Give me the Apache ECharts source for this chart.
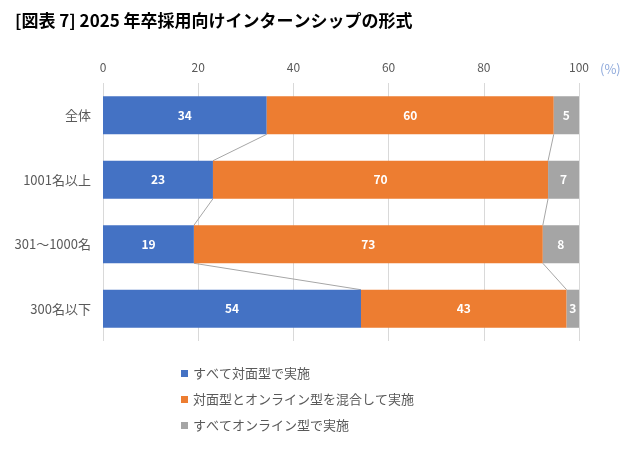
<!DOCTYPE html>
<html><head><meta charset="utf-8">
<script src="https://cdn.jsdelivr.net/npm/echarts@6/dist/echarts.min.js"></script>
<style>html,body{margin:0;padding:0;background:#fff}#c{width:628px;height:450px}</style>
</head><body><div id="c"></div>
<script>
const categories = ['全体', '1001名以上', '301～1000名', '300名以下'];
const seriesNames = ['すべて対面型で実施', '対面型とオンライン型を混合して実施', 'すべてオンライン型で実施'];
const faceToFace = [34.4, 23.1, 19.1, 54.2];
const hybrid = [60.3, 70.4, 73.3, 43.2];
const online = [5.3, 6.5, 7.6, 2.6];
const xTicks = [0, 20, 40, 60, 80, 100];

const colors = ['#4472C4', '#ED7D31', '#A5A5A5'];
const FONT = '"Noto Sans CJK JP", "Noto Sans", sans-serif';
const BAR_RATIO = 0.59;

const cum1 = faceToFace.slice();
const cum2 = faceToFace.map((v, i) => v + hybrid[i]);
function connectorData(cum) {
  const d = [];
  for (let i = 0; i < cum.length - 1; i++) d.push([i, cum[i], cum[i + 1]]);
  return d;
}
function renderConnector(params, api) {
  const i = api.value(0);
  const p1 = api.coord([api.value(1), i]);
  const p2 = api.coord([api.value(2), i + 1]);
  const band = api.size([0, 1])[1];
  const half = band * BAR_RATIO / 2;
  return {
    type: 'line',
    shape: { x1: p1[0], y1: p1[1] + half, x2: p2[0], y2: p2[1] - half },
    style: { stroke: '#A6A6A6', lineWidth: 1 }
  };
}
function barSeries(name, data, color) {
  return {
    name, type: 'bar', stack: 'total', data, barWidth: (BAR_RATIO * 100) + '%',
    itemStyle: { color },
    label: { show: true, position: 'inside', color: '#fff', fontWeight: 'bold', fontSize: 12,
      fontFamily: FONT, formatter: p => Math.round(p.value) },
    emphasis: { disabled: true }, animation: false
  };
}
const chart = echarts.init(document.getElementById('c'));
chart.setOption({
  animation: false,
  textStyle: { fontFamily: FONT },
  title: [
    { text: '[図表 7] 2025 年卒採用向けインターンシップの形式', left: 10, top: 7,
      textStyle: { fontSize: 17, fontWeight: 'bold', color: '#000', fontFamily: FONT } },
    { text: '(%)', left: 595, top: 58, textStyle: { fontSize: 13, fontWeight: 'normal', color: '#8EA9DB', fontFamily: FONT } }
  ],
  grid: { left: 103, right: 49, top: 83, bottom: 109 },
  xAxis: {
    type: 'value', position: 'top', min: xTicks[0], max: xTicks[xTicks.length - 1], interval: 20,
    axisLine: { show: false }, axisTick: { show: false },
    axisLabel: { color: '#595959', fontSize: 12, margin: 10, fontFamily: FONT },
    splitLine: { lineStyle: { color: '#D9D9D9' } }
  },
  yAxis: {
    type: 'category', data: categories, inverse: true,
    axisLine: { show: false }, axisTick: { show: false },
    axisLabel: { color: '#595959', fontSize: 13, margin: 12, fontFamily: FONT }
  },
  legend: {
    data: seriesNames, orient: 'vertical', left: 176, top: 362, itemWidth: 7, itemHeight: 7, itemGap: 13,
    icon: 'rect', textStyle: { fontSize: 13, color: '#595959', fontFamily: FONT }
  },
  series: [
    barSeries(seriesNames[0], faceToFace, colors[0]),
    barSeries(seriesNames[1], hybrid, colors[1]),
    barSeries(seriesNames[2], online, colors[2]),
    { type: 'custom', name: 'c1', renderItem: renderConnector, data: connectorData(cum1),
      encode: { x: [1, 2], y: 0 }, silent: true, z: 1 },
    { type: 'custom', name: 'c2', renderItem: renderConnector, data: connectorData(cum2),
      encode: { x: [1, 2], y: 0 }, silent: true, z: 1 }
  ]
});
</script></body></html>
